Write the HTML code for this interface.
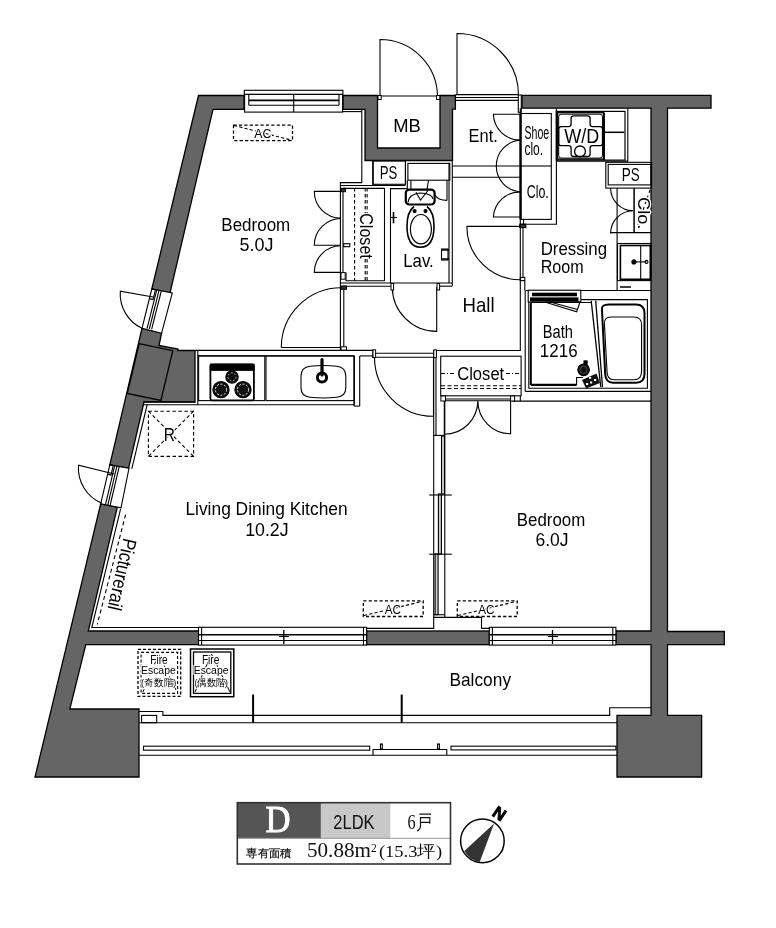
<!DOCTYPE html>
<html><head><meta charset="utf-8">
<style>
html,body{margin:0;padding:0;background:#fff;}
body{width:776px;height:928px;overflow:hidden;}
svg{display:block;will-change:transform;}
text{font-family:"Liberation Sans",sans-serif;fill:#000;}
text.halo{stroke:#fff;stroke-width:2.5px;paint-order:stroke;stroke-linejoin:round;}
text.sf{font-family:"Liberation Serif",serif;}
</style></head>
<body>
<svg width="776" height="928" viewBox="0 0 776 928">
<rect width="776" height="928" fill="#fff"/>

<!-- ===== WALLS ===== -->
<g fill="#656565" stroke="#000" stroke-width="1.3" stroke-linejoin="miter">
  <!-- top-left wall -->
  <polygon points="198.5,95.5 244,95.5 244,109.3 213,109.3 170,293 151.8,289"/>
  <!-- wall between window1 and window2 incl column -->
  <polygon points="142,328.3 161.6,333.2 159,345.5 178,349 178,350.5 195,350.5 195,402 144,402 128.6,468.3 109.8,464.9"/>
  <polygon points="139.2,343.7 172.8,350.7 160.9,400.4 127.3,393.4"/>
  <!-- lower left wall + balcony block -->
  <polygon points="100.7,503.8 117.3,507.2 88.3,631 198.8,631 198.8,644.7 85.8,644.7 69.8,709 139,709 139,777 35,777"/>
  <!-- bottom wall middle -->
  <rect x="366.6" y="631" width="122.7" height="13.7"/>
  <!-- MB + top middle -->
  <polygon points="343,95.5 377.5,95.5 377.5,148 440,148 440,95.5 455.4,95.5 455.4,109.2 452.5,109.2 452.5,160.5 365,160.5 365,109.3 343,109.3"/>
  <!-- right walls -->
  <polygon points="522,95.4 711,95.4 711,108.2 667.5,108.2 667.5,631.5 724.3,631.5 724.3,644.7 667.5,644.7 667.5,715.3 701.6,715.3 701.6,777 617,777 617,715.3 651,715.3 651,644.7 615.9,644.7 615.9,631 651,631 651,108.2 522,108.2"/>
</g>

<!-- ===== THIN LINES ===== -->
<g fill="none" stroke="#000" stroke-width="1.1">
  <!-- top window bedroom1 -->
  <rect x="244.3" y="90.3" width="98.6" height="4.1"/>
  <rect x="244.6" y="94.4" width="98" height="17.7" fill="#fff"/>
  <line x1="248.8" y1="100.3" x2="339" y2="100.3" stroke-width="1.7"/>
  <line x1="248.8" y1="105.3" x2="339" y2="105.3"/>
  <line x1="248.8" y1="94.4" x2="248.8" y2="105.3"/>
  <line x1="339" y1="94.4" x2="339" y2="105.3"/>
  <line x1="293.7" y1="94.4" x2="293.7" y2="112.1"/>
  <!-- MB doors -->
  <path d="M380,97 L380,39.5 A57.5,57.5 0 0 1 437.5,97"/>
  <line x1="378" y1="96" x2="440" y2="96"/>
  <!-- Ent door -->
  <path d="M457,95 L457,33.5 A61.5,61.5 0 0 1 518.5,95"/>
  <line x1="455.4" y1="94.6" x2="518.3" y2="94.6"/>
  <line x1="455.4" y1="97.5" x2="518.3" y2="97.5"/>
  <line x1="455.4" y1="100.4" x2="518.3" y2="100.4"/>
  <rect x="518.3" y="95" width="3" height="17.3" fill="#fff"/>

  <!-- left window1 (rotated) -->
  <polygon points="151.8,289 172.3,293 161.6,333.2 142,328.3" fill="#fff"/>
  <line x1="156.7" y1="290.2" x2="147" y2="328.6"/>
  <line x1="159" y1="290.6" x2="149.3" y2="329"/>
  <line x1="161.3" y1="291" x2="151.6" y2="329.4"/>
  <polyline points="151.9,289.1 155.4,289.8 153,299.5 150,298.9"/>
  <path d="M153,297 L120.3,291.2 A38,38 0 0 0 142,328.3"/>

  <!-- left window2 -->
  <polygon points="109.8,464.9 129,468.3 121,507.9 100.7,503.8" fill="#fff"/>
  <line x1="114.6" y1="465.8" x2="105.5" y2="504.7"/>
  <line x1="116.9" y1="466.2" x2="107.8" y2="505.1"/>
  <line x1="119.2" y1="466.6" x2="110.1" y2="505.5"/>
  <polyline points="109.8,464.9 113.3,465.5 111,475 108,474.4"/>
  <path d="M114.3,474 L78.5,465.3 A38,38 0 0 0 101.8,503.3"/>

  <!-- LDK finish double line along left + bottom -->
  <polyline points="120.6,508.9 91.8,627.5 198.8,627.5"/>
  <line x1="147.2" y1="404.5" x2="131.8" y2="468.8"/>
  <!-- picture rail dashed -->
  <line x1="125.6" y1="514.6" x2="97.3" y2="624.3" stroke-dasharray="4,3"/>
  <!-- LDK window -->
  <rect x="198.5" y="627.3" width="168.1" height="17.8" fill="#fff"/>
  <line x1="198.5" y1="634.7" x2="366.6" y2="634.7" stroke-width="1.6"/>
  <line x1="198.5" y1="640.5" x2="366.6" y2="640.5"/>
  <line x1="201.6" y1="627.3" x2="201.6" y2="645.1"/>
  <line x1="363.5" y1="627.3" x2="363.5" y2="645.1"/>
  <line x1="283.8" y1="630" x2="283.8" y2="644" stroke-width="1.3"/>
  <line x1="279" y1="636.5" x2="289" y2="636.5"/>
  <!-- Bed2 window -->
  <rect x="489.3" y="627.3" width="126.6" height="17.8" fill="#fff"/>
  <line x1="489.3" y1="634.7" x2="615.9" y2="634.7" stroke-width="1.6"/>
  <line x1="489.3" y1="640.5" x2="615.9" y2="640.5"/>
  <line x1="492.4" y1="627.3" x2="492.4" y2="645.1"/>
  <line x1="612.8" y1="627.3" x2="612.8" y2="645.1"/>
  <line x1="552.5" y1="630" x2="552.5" y2="644" stroke-width="1.3"/>
  <line x1="548" y1="636.5" x2="558" y2="636.5"/>
  <!-- balcony rails -->
  <polyline points="139,711.5 162.9,711.5 162.9,715.4 609.7,715.4 609.7,707.8 651,707.8"/>
  <line x1="139" y1="722.7" x2="617" y2="722.7"/>
  <rect x="141.6" y="715.4" width="15.1" height="7.3"/>
  <line x1="253.1" y1="694.5" x2="253.1" y2="722.7" stroke-width="2"/>
  <line x1="401.7" y1="694.5" x2="401.7" y2="722.7" stroke-width="2"/>
  <line x1="139" y1="755.3" x2="617" y2="755.3"/>
  <rect x="143.5" y="746.2" width="226.2" height="4"/>
  <polyline points="373,755.3 373,749.5 446.8,749.5 446.8,755.3"/>
  <rect x="380.5" y="744" width="1.8" height="5.5"/>
  <rect x="437.6" y="744" width="1.8" height="5.5"/>
  <rect x="451" y="746.2" width="164.9" height="3.7"/>
</g>


<!-- ===== INTERIOR ===== -->
<g fill="none" stroke="#000" stroke-width="1.1">
  <!-- AC top -->
  <rect x="233.5" y="125.1" width="59" height="15.5" stroke-dasharray="3.2,2.2" stroke-width="1.3"/>
  <line x1="234" y1="125.5" x2="292" y2="140.3" stroke-dasharray="3.2,2.2"/>
  <!-- bedroom1 right partition near MB -->
  <polyline points="361.8,109.3 361.8,182.6 340.4,182.6 340.4,350.4"/>
  <line x1="342.5" y1="111.6" x2="361.8" y2="111.6"/>
  <line x1="343" y1="188" x2="343" y2="272.4"/>
  <line x1="343.8" y1="286.2" x2="343.8" y2="350.4"/>
  <line x1="340.4" y1="185.5" x2="405.3" y2="185.5"/>
  <line x1="343" y1="188.4" x2="384.5" y2="188.4"/>
  <polyline points="390.3,188.6 407.3,188.6 407.3,180.3"/>
  <line x1="373.2" y1="160.5" x2="373.2" y2="185.6"/>
  <!-- bedroom1 closet -->
  <polyline points="346,272.4 346,280.7 384.5,280.7 384.5,188"/>
  <line x1="354.6" y1="188" x2="354.6" y2="280.7" stroke-dasharray="3.5,2.5"/>
  <line x1="365.2" y1="188" x2="365.2" y2="214" stroke-dasharray="3.5,2.5"/>
  <line x1="367.1" y1="188" x2="367.1" y2="214" stroke-dasharray="3.5,2.5"/>
  <line x1="365.2" y1="259" x2="365.2" y2="280.7" stroke-dasharray="3.5,2.5"/>
  <line x1="367.1" y1="259" x2="367.1" y2="280.7" stroke-dasharray="3.5,2.5"/>
  <path d="M341,191.4 L314.3,191.4 A26.7,26.7 0 0 0 341,218.1"/>
  <path d="M341,218.5 A26.7,26.7 0 0 0 314.3,245.2 L341,245.2"/>
  <path d="M341,245.7 A26.7,26.7 0 0 0 314.3,272.4 L341,272.4"/>
  <rect x="343.7" y="243.7" width="6.1" height="3"/>
  <line x1="340.4" y1="283" x2="452" y2="283"/>
  <line x1="343" y1="286.2" x2="391" y2="286.2"/>
  <line x1="439" y1="286.2" x2="452" y2="286.2"/>
  <!-- PS (lav) -->
  <rect x="372.7" y="161" width="32.7" height="23.3"/>
  <!-- Lav walls -->
  <line x1="390.5" y1="188" x2="390.5" y2="283"/>
  <line x1="449" y1="162.8" x2="449" y2="283"/>
  <line x1="452.3" y1="160.5" x2="452.3" y2="286.2"/>
  <line x1="405.5" y1="161" x2="405.5" y2="184.3"/>
  <rect x="407.9" y="163.4" width="41.9" height="16.8"/>
  <path d="M410.9,180.3 V190 M447,180.3 V200.4"/>
  <!-- toilet -->
  <rect x="405.8" y="189.6" width="28.8" height="14.9" rx="3.5" stroke-width="2.2" fill="#fff"/>
  <path d="M408,202.5 Q409,194 420,193 Q432,193.5 433,199"/>
  <path d="M428.5,180.3 L427,189.5 M416,192.2 L420.5,200 L428,190.5"/>
  <path d="M434.6,194.7 Q438,200.4 447,200.4"/>
  <path d="M414,206.5 Q407,212 407,226 Q407,247.2 420.5,247.2 Q434,247.2 434,226 Q434,212 427,206.5" stroke-width="1.6"/>
  <ellipse cx="420.9" cy="229.2" rx="10.5" ry="14.7" stroke-width="1.2"/>
  <circle cx="414.6" cy="211.1" r="1.5" fill="#000"/>
  <circle cx="425.5" cy="211.1" r="1.5" fill="#000"/>
  <!-- towel bar lav -->
  <line x1="393.5" y1="212" x2="393.5" y2="223.3" stroke-width="1.6"/>
  <line x1="391" y1="217.5" x2="397" y2="217.5"/>
  <!-- paper holder -->
  <rect x="441.5" y="249" width="6.5" height="11"/>
  <line x1="441.5" y1="250" x2="449" y2="250" stroke-width="1.5"/>
  <line x1="441.5" y1="259" x2="449" y2="259" stroke-width="1.5"/>
  <!-- Lav door -->
  <path d="M392.3,287 A44.4,44.4 0 0 0 436.7,331.4 L436.7,287"/>
  <!-- bedroom1 door -->
  <path d="M281.3,347.5 A60,60 0 0 1 341.4,287.7"/>
  <line x1="281.3" y1="347.5" x2="340.4" y2="347.5"/>
  <!-- LDK/Hall partition -->
  <line x1="195.3" y1="350.4" x2="373.7" y2="350.4"/>
  <line x1="197.8" y1="355.9" x2="354.1" y2="355.9"/>
  <line x1="359.7" y1="355.9" x2="372.9" y2="355.9"/>
  <line x1="373" y1="353.3" x2="434.8" y2="353.3"/>
  <line x1="373" y1="357.3" x2="434.8" y2="357.3"/>
  <line x1="372.9" y1="350.4" x2="372.9" y2="358"/>
  <path d="M374.5,357.3 A59,59 0 0 0 433.5,416.3 L433.5,357.3"/>
  <!-- kitchen -->
  <line x1="197.8" y1="350.4" x2="197.8" y2="404.7"/>
  <line x1="143.4" y1="402" x2="195.3" y2="402"/>
  <line x1="143.4" y1="404.7" x2="354.1" y2="404.7"/>
  <rect x="198.6" y="355.9" width="66.2" height="44.7"/>
  <rect x="266" y="355.9" width="88.3" height="44.7"/>
  <line x1="354.1" y1="355.9" x2="354.1" y2="406.1" stroke-width="1.5"/>
  <line x1="359.7" y1="355.9" x2="359.7" y2="406.1"/>
  <line x1="354.1" y1="406.1" x2="359.7" y2="406.1"/>
  <rect x="210.4" y="364.3" width="43.5" height="36" rx="1.5" stroke-width="1.8"/>
  <rect x="210.4" y="364.3" width="43.5" height="6" fill="#000"/>
  <circle cx="232" cy="376.9" r="6.2" fill="#111"/>
  <circle cx="232" cy="376.9" r="4" stroke="#fff" stroke-width="0.7" stroke-dasharray="1.5,2"/>
  <circle cx="221" cy="389.7" r="8.1" fill="#111"/>
  <circle cx="221" cy="389.7" r="5.6" stroke="#fff" stroke-width="0.9" stroke-dasharray="2,1.6"/>
  <circle cx="243" cy="389.7" r="8.1" fill="#111"/>
  <circle cx="243" cy="389.7" r="5.6" stroke="#fff" stroke-width="0.9" stroke-dasharray="2,1.6"/>
  <path d="M310,366.3 Q323.4,364.8 336.8,366.3 Q345.8,367.5 345.8,376 V388 Q345.8,396.3 336.8,397.3 Q323.4,398.8 310,397.3 Q301,396.3 301,388 V376 Q301,367.5 310,366.3 Z"/>
  <circle cx="322" cy="377.5" r="4.6" stroke-width="3"/>
  <line x1="322" y1="359.5" x2="322" y2="375" stroke-width="3.2" stroke-linecap="round"/>
  <!-- R box -->
  <rect x="148.4" y="411.2" width="45.2" height="45.2" stroke-dasharray="3.5,2.5"/>
  <line x1="148.4" y1="411.2" x2="193.6" y2="456.4" stroke-dasharray="3.5,2.5"/>
  <line x1="193.6" y1="411.2" x2="148.4" y2="456.4" stroke-dasharray="3.5,2.5"/>
  <!-- LDK AC -->
  <rect x="363.3" y="600.9" width="59.9" height="15.6" stroke-dasharray="3.2,2.2" stroke-width="1.3"/>
  <line x1="364" y1="615.5" x2="422" y2="601.5" stroke-dasharray="3.2,2.2"/>
  <!-- Bed2 AC -->
  <rect x="457.3" y="600.9" width="59.9" height="15.6" stroke-dasharray="3.2,2.2" stroke-width="1.3"/>
  <line x1="458" y1="615.5" x2="516" y2="601.5" stroke-dasharray="3.2,2.2"/>
  <!-- LDK / bedroom2 partition -->
  <line x1="433.7" y1="350.4" x2="433.7" y2="617.4"/>
  <line x1="436" y1="350.4" x2="436" y2="435.4"/>
  <line x1="444.8" y1="400" x2="444.8" y2="617.4"/>
  <line x1="433.7" y1="435.4" x2="444.8" y2="435.4"/>
  <rect x="441.5" y="436" width="3" height="58" fill="#ccc"/>
  <rect x="438.4" y="494" width="3" height="60" fill="#ccc"/>
  <rect x="435.1" y="554" width="3" height="60.7" fill="#ccc"/>
  <line x1="429.2" y1="495" x2="451.8" y2="495"/>
  <line x1="429.2" y1="554.2" x2="451.8" y2="554.2"/>
  <polyline points="366.6,628.4 433.7,628.4 433.7,617.4 481.5,617.4 481.5,628.4 489.3,628.4"/>
  <line x1="433.7" y1="614.7" x2="444.8" y2="614.7"/>
  <!-- hall -->
  <polyline points="433.7,350.5 520.3,350.5 520.3,108.2"/>
  <line x1="523.5" y1="219.4" x2="523.5" y2="226"/>
  <rect x="519.8" y="224.2" width="6" height="3.4" fill="#333"/>
  <line x1="523" y1="227.6" x2="523" y2="277.4"/>
  <rect x="520.3" y="277.4" width="4.5" height="3.2"/>
  <polyline points="524.8,280.6 524.8,290.5"/>
  <path d="M520.3,226.4 H466.9 A53.4,53.4 0 0 0 520.3,279.8"/>
  <!-- bedroom2 closet -->
  <rect x="440.7" y="356.2" width="80.4" height="39.6"/>
  <line x1="441" y1="373.5" x2="456" y2="373.5" stroke-dasharray="4,2,1,2"/>
  <line x1="506" y1="373.5" x2="521" y2="373.5" stroke-dasharray="4,2,1,2"/>
  <line x1="441" y1="385.8" x2="521" y2="385.8" stroke-dasharray="4,2.5"/>
  <line x1="441" y1="388.5" x2="521" y2="388.5" stroke-dasharray="4,2.5"/>
  <line x1="444.3" y1="399" x2="510.6" y2="399"/>
  <line x1="444.3" y1="400.8" x2="510.6" y2="400.8"/>
  <path d="M444.3,400.8 L444.3,434.3 A33.5,33.5 0 0 0 477.8,400.8 A33,33 0 0 0 510.6,433.8 L510.6,400.8"/>
  <line x1="512.2" y1="401.1" x2="651" y2="401.1"/>
  <line x1="520.3" y1="396" x2="520.3" y2="401.1"/>

  <!-- Ent -->
  <line x1="452.5" y1="166" x2="520" y2="166"/>
  <line x1="452.5" y1="177.3" x2="520" y2="177.3"/>
  <rect x="520.9" y="113.5" width="30.4" height="105.9"/>
  <line x1="520.9" y1="166" x2="551.3" y2="166"/>
  <line x1="520.5" y1="113.5" x2="520.5" y2="219.4" stroke-width="2.2"/>
  <polyline points="556.4,108.2 556.4,224.2 520.3,224.2"/>
  <path d="M520,114.3 L493.4,114.3 A26.6,26.6 0 0 0 520,140.1"/>
  <path d="M520,140.1 A26,26 0 0 0 520,191.9"/>
  <path d="M520,191.9 A26.6,26.6 0 0 0 493.4,217 L520,217"/>
  <!-- W/D -->
  <rect x="556.3" y="111.4" width="68.7" height="48.7" stroke-width="1.2"/>
  <rect x="557.7" y="112.7" width="45.8" height="46.4" stroke-width="1.3"/>
  <rect x="558.7" y="114.2" width="43.8" height="43.9" rx="2.5" stroke-width="1"/>
  <path d="M573.5,115.8 H587.6 Q590.1,115.8 590.1,118.3 V124.1 Q590.1,126.6 592.6,126.6 H600 Q602.5,126.6 602.5,129.1 V143.2 Q602.5,145.7 600,145.7 H592.6 Q590.1,145.7 590.1,148.2 V154 Q590.1,156.5 587.6,156.5 H573.6 Q571.1,156.5 571.1,154 V148.2 Q571.1,145.7 568.6,145.7 H561.2 Q558.7,145.7 558.7,143.2 V129.1 Q558.7,126.6 561.2,126.6 H568.6 Q571.1,126.6 571.1,124.1 V118.3 Q571.1,115.8 573.6,115.8 Z" stroke-width="1.3"/>
  <line x1="604" y1="112.7" x2="604" y2="160.1" stroke-width="2"/>
  <line x1="604.6" y1="132.3" x2="624.2" y2="132.3" stroke-width="1.5"/>
  <line x1="627.8" y1="108.2" x2="627.8" y2="161.5"/>
  <line x1="556.4" y1="161.1" x2="627.8" y2="161.1"/>
  <circle cx="580" cy="151.4" r="5.4" stroke-width="1.3"/>
  <!-- PS right -->
  <rect x="605.8" y="162.3" width="45.8" height="25.8"/>
  <rect x="608.2" y="164.4" width="42.8" height="20.5"/>
  <!-- Clo right -->
  <line x1="617.1" y1="188" x2="617.1" y2="290.9"/>
  <line x1="634.1" y1="188" x2="634.1" y2="232.6" stroke-width="1.5"/>
  <line x1="650" y1="190" x2="636.5" y2="229" stroke-dasharray="3,3"/>
  <line x1="610" y1="232.6" x2="651" y2="232.6"/>
  <path d="M610.6,188 A22.7,22.7 0 0 0 633.3,210.7 A22.7,22.7 0 0 0 610.6,233.4"/>
  <!-- vanity -->
  <rect x="617.5" y="243.5" width="33.5" height="37.1"/>
  <rect x="620.4" y="245.5" width="29.9" height="33.8" stroke-width="1.6"/>
  <line x1="640.7" y1="245.5" x2="640.7" y2="279.3"/>
  <line x1="633.9" y1="261.9" x2="646.5" y2="261.9"/>
  <circle cx="633.9" cy="261.9" r="2" fill="#000"/>
  <circle cx="646.5" cy="261.9" r="1.5"/>
  <line x1="620" y1="287" x2="631" y2="287" stroke-width="1.5"/>
  <!-- dressing left wall -->
  <!-- bath -->
  <line x1="525.6" y1="290.5" x2="651" y2="290.5"/>
  <line x1="525.2" y1="290.5" x2="525.2" y2="391.4"/>
  <line x1="525.2" y1="391.4" x2="651" y2="391.4"/>
  <polyline points="580.8,299.6 647.4,299.6 647.4,388.3 528.8,388.3 528.8,302"/>
  <rect x="528.2" y="290.2" width="52.6" height="11.8" fill="#fff"/>
  <rect x="532" y="292.7" width="45" height="3.6" fill="#000" stroke="none"/>
  <rect x="530" y="297.4" width="48.5" height="4.1" fill="#000" stroke="none"/>
  <polygon points="544.7,302 576.7,311.8 580,302" fill="#fff"/>
  <line x1="550" y1="302" x2="577.5" y2="309.5"/>
  <path d="M530.8,302.5 H591.5" stroke-width="1"/>
  <line x1="530.8" y1="302.5" x2="530.8" y2="384.9" stroke-width="2"/>
  <line x1="530.8" y1="384.9" x2="576.6" y2="384.9" stroke-width="2.4"/>
  <polyline points="576.6,384.9 576.6,377.5 583,377.5"/>
  <line x1="591.2" y1="300.7" x2="600.8" y2="387.3" stroke-width="1.3"/>
  <line x1="595.7" y1="300.7" x2="602.5" y2="387.3" stroke-width="1.3"/>
  <path d="M602,310 Q601,304.4 609,304.4 H636 Q644.5,304.4 644.5,313 V374 Q644.5,382.7 636,382.7 H613 Q605.6,382.7 605.2,374 Z" stroke-width="2"/>
  <path d="M604.5,325 Q603.5,317 611,317 H634 Q641.6,317 641.6,325 V371 Q641.6,379.8 634,379.8 H614 Q607,379.8 607,371 Z" stroke-width="1.1"/>
  <circle cx="583.6" cy="369.8" r="5.8" fill="#111"/>
  <circle cx="583.6" cy="369.8" r="3.6" stroke="#555" stroke-width="0.8"/>
  <rect x="584" y="360.9" width="3.1" height="3.5" fill="#000"/>
  <polygon points="582,380 596.5,373.5 600,383 586,388.5" fill="#111" stroke="none"/>
  <rect x="586" y="383" width="2.2" height="2" fill="#fff" stroke="none"/>
  <rect x="590" y="381.5" width="2.2" height="2" fill="#fff" stroke="none"/>
  <rect x="594" y="379" width="2.2" height="2" fill="#fff" stroke="none"/>
  <rect x="589" y="377" width="2.2" height="1.8" fill="#fff" stroke="none"/>
</g>


<!-- jambs -->
<g fill="#fff" stroke="#000" stroke-width="1">
  <rect x="341" y="188.3" width="4.5" height="3.4" fill="#333"/>
  <rect x="341" y="272.6" width="4.2" height="6.6"/>
  <rect x="341" y="286" width="5.5" height="3.3" fill="#333"/>
  <rect x="341" y="346.8" width="5.5" height="3.3"/>
  <rect x="391" y="283.5" width="2.6" height="6.5"/>
  <rect x="437" y="283.5" width="2.6" height="6.5"/>
  <rect x="373" y="349.8" width="2.6" height="7.8"/>
  <rect x="433.8" y="349.8" width="2.6" height="7.8"/>
  <rect x="440.9" y="396" width="4.6" height="5"/>
  <rect x="510.6" y="396" width="4" height="5"/>
  <rect x="378" y="95.5" width="3.2" height="4"/>
  <rect x="436.6" y="95.5" width="3.2" height="4"/>
</g>

<!-- ===== TEXT ===== -->
<g fill="#111">
  <text x="254.20" y="137.70" font-size="13.52" textLength="17.19" lengthAdjust="spacingAndGlyphs" class="halo">AC</text>
  <text x="393.13" y="131.80" font-size="18.75" textLength="27.59" lengthAdjust="spacingAndGlyphs">MB</text>
  <text x="468.58" y="141.80" font-size="18.90" textLength="29.26" lengthAdjust="spacingAndGlyphs">Ent.</text>
  <text x="524.42" y="138.50" font-size="18.75" textLength="24.76" lengthAdjust="spacingAndGlyphs">Shoe</text>
  <text x="524.42" y="154.70" font-size="18.75" textLength="18.67" lengthAdjust="spacingAndGlyphs">clo.</text>
  <text x="526.68" y="197.60" font-size="18.90" textLength="22.08" lengthAdjust="spacingAndGlyphs">Clo.</text>
  <text x="564.31" y="142.60" font-size="19.48" textLength="34.97" lengthAdjust="spacingAndGlyphs" class="halo" style="stroke-width:1px">W/D</text>
  <text x="379.64" y="179.20" font-size="17.88" textLength="17.60" lengthAdjust="spacingAndGlyphs">PS</text>
  <text x="621.72" y="180.90" font-size="17.73" textLength="17.94" lengthAdjust="spacingAndGlyphs">PS</text>
  <text x="221.34" y="230.70" font-size="18.75" textLength="68.93" lengthAdjust="spacingAndGlyphs">Bedroom</text>
  <text x="239.58" y="251.30" font-size="18.75" textLength="33.97" lengthAdjust="spacingAndGlyphs">5.0J</text>
  <text x="403.26" y="267.30" font-size="18.31" textLength="30.47" lengthAdjust="spacingAndGlyphs">Lav.</text>
  <text x="462.51" y="311.60" font-size="19.62" textLength="32.05" lengthAdjust="spacingAndGlyphs">Hall</text>
  <text x="540.65" y="255.10" font-size="18.17" textLength="66.35" lengthAdjust="spacingAndGlyphs">Dressing</text>
  <text x="540.71" y="272.50" font-size="18.17" textLength="43.00" lengthAdjust="spacingAndGlyphs">Room</text>
  <text x="542.83" y="338.30" font-size="18.31" textLength="30.16" lengthAdjust="spacingAndGlyphs">Bath</text>
  <text x="539.83" y="356.60" font-size="18.31" textLength="37.75" lengthAdjust="spacingAndGlyphs">1216</text>
  <text x="457.17" y="380.40" font-size="18.75" textLength="47.09" lengthAdjust="spacingAndGlyphs" class="halo">Closet</text>
  <text x="163.86" y="440.50" font-size="18.17" textLength="11.17" lengthAdjust="spacingAndGlyphs" class="halo">R</text>
  <text x="185.41" y="515.30" font-size="18.31" textLength="162.20" lengthAdjust="spacingAndGlyphs">Living Dining Kitchen</text>
  <text x="245.17" y="536.20" font-size="18.02" textLength="43.49" lengthAdjust="spacingAndGlyphs">10.2J</text>
  <text x="516.85" y="525.60" font-size="18.75" textLength="68.41" lengthAdjust="spacingAndGlyphs">Bedroom</text>
  <text x="535.42" y="545.70" font-size="17.88" textLength="33.09" lengthAdjust="spacingAndGlyphs">6.0J</text>
  <text x="384.80" y="613.60" font-size="13.52" textLength="16.26" lengthAdjust="spacingAndGlyphs" class="halo">AC</text>
  <text x="478.30" y="613.60" font-size="13.52" textLength="16.26" lengthAdjust="spacingAndGlyphs" class="halo">AC</text>
  <text x="449.41" y="686.30" font-size="19.04" textLength="61.65" lengthAdjust="spacingAndGlyphs">Balcony</text>
  <text transform="translate(359.70 0.00) rotate(90)" x="213.19" y="0" font-size="19.19" textLength="45.66" lengthAdjust="spacingAndGlyphs" class="halo">Closet</text>
  <text transform="translate(637.80 0.00) rotate(90)" x="196.99" y="0" font-size="16.13" textLength="32.41" lengthAdjust="spacingAndGlyphs" class="halo">Clo.</text>
  <text transform="translate(123.10 538.70) rotate(102.7)" x="-1.31" y="0" font-size="19.77" textLength="72.89" lengthAdjust="spacingAndGlyphs">Picturerail</text>
</g>


<!-- fire escapes -->
<g fill="none" stroke="#000">
  <rect x="138" y="649.3" width="42.7" height="47.1" stroke-dasharray="3,2" stroke-width="1.3"/>
  <rect x="141.1" y="652.4" width="36.5" height="41" stroke-dasharray="3,2" stroke-width="1.1"/>
  <polyline points="143,692 158.7,654 177,692" stroke-dasharray="3,3" stroke-width="1"/>
  <rect x="190.5" y="649" width="43.3" height="47.7" stroke-width="1.5"/>
  <rect x="193.5" y="652" width="37.3" height="41.4" stroke-width="1.3"/>
  <polyline points="195,692 211.5,654 230,692" stroke-width="1"/>
</g>
<g fill="#111">
  <text x="150.19" y="664.00" font-size="11.92" textLength="17.49" lengthAdjust="spacingAndGlyphs" class="halo">Fire</text>
  <text x="140.97" y="674.10" font-size="10.76" textLength="34.81" lengthAdjust="spacingAndGlyphs" class="halo">Escape</text>
  <text x="141" y="686.3" font-size="9.5" textLength="35.3" lengthAdjust="spacingAndGlyphs" class="halo" style="stroke-width:1.5px">(奇数階)</text>
  <text x="201.89" y="664.00" font-size="11.92" textLength="17.49" lengthAdjust="spacingAndGlyphs" class="halo">Fire</text>
  <text x="193.66" y="674.10" font-size="10.76" textLength="34.91" lengthAdjust="spacingAndGlyphs" class="halo">Escape</text>
  <text x="194.5" y="686.3" font-size="9.5" textLength="33.5" lengthAdjust="spacingAndGlyphs" class="halo" style="stroke-width:1.5px">(偶数階)</text>
</g>

<!-- ===== LEGEND ===== -->
<rect x="237.3" y="802.7" width="83.6" height="35.8" fill="#555"/>
<rect x="320.9" y="802.7" width="69.4" height="35.8" fill="#c8c8c8"/>
<line x1="237.3" y1="838.3" x2="450.5" y2="838.3" stroke="#999" stroke-width="1"/>
<rect x="237.3" y="802.7" width="213.2" height="61.3" fill="none" stroke="#333" stroke-width="1.6"/>
<g>
<text class="sf" x="265.6" y="831.7" font-size="37" textLength="25" lengthAdjust="spacingAndGlyphs" style="fill:#fff;stroke:#fff;stroke-width:0.9px">D</text>
<text class="sf" x="407.5" y="828.7" font-size="20" textLength="24.3" lengthAdjust="spacingAndGlyphs" style="fill:#111;stroke:none">6戸</text>
<text class="sf" x="307" y="857.4" font-size="20" textLength="63.9" lengthAdjust="spacingAndGlyphs" style="fill:#111;stroke:none">50.88m</text>
<text class="sf" x="371" y="852" font-size="11.5" style="fill:#111;stroke:none">2</text>
<text class="sf" x="378.9" y="857.4" font-size="17" textLength="63.3" lengthAdjust="spacingAndGlyphs" style="fill:#111;stroke:none">(15.3坪)</text>
</g>
<text x="333.3" y="828.7" font-size="19.7" textLength="41.3" lengthAdjust="spacingAndGlyphs" style="fill:#111;stroke:none">2LDK</text>
<text x="246.3" y="856.5" font-size="11" textLength="45" lengthAdjust="spacingAndGlyphs" style="fill:#111;stroke:#111;stroke-width:0.25px">専有面積</text>
<!-- compass -->
<circle cx="482.4" cy="840.9" r="21.8" fill="#fff" stroke="#000" stroke-width="1.5"/>
<path d="M494.1,823.6 L464.3,851 A21.8,21.8 0 0 0 479.7,861.9 Z" fill="#333"/>
<text x="0" y="0" font-size="16.5" font-weight="bold" text-anchor="middle" transform="translate(499.5 813.5) rotate(34) translate(0 5.8)" style="fill:#000;stroke:#000;stroke-width:0.9px">N</text>
</svg>
</body></html>
